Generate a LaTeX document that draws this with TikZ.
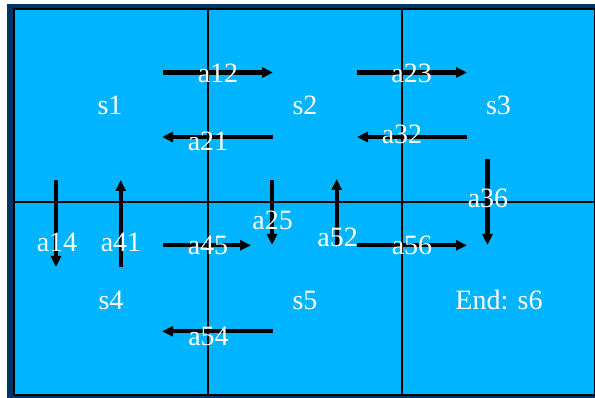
\documentclass[tikz,border=0pt]{standalone}
\usepackage{fontspec}
\setmainfont{Liberation Serif}
\usetikzlibrary{arrows.meta}
\definecolor{cellblue}{RGB}{0,180,255}
\definecolor{navy}{RGB}{0,51,102}
\tikzset{
  lbl/.style={text=white, font=\fontsize{28}{30}\selectfont, anchor=base, inner sep=0pt},
  act/.style={line width=4.3pt, -{Triangle[length=11pt,width=10pt]}},
  gridline/.style={line width=2pt, black},
}
\begin{document}
\begin{tikzpicture}[x=1pt,y=-1pt]
\useasboundingbox (0,0) rectangle (595,398);
\fill[white] (0,0) rectangle (595,398);
\fill[navy] (7,4) rectangle (597,400);
\draw[gridline, fill=cellblue] (14,8.8) rectangle (595,395);
\draw[gridline] (207.7,8.8) -- (207.7,395);
\draw[gridline] (401.7,8.8) -- (401.7,395);
\draw[gridline] (14,202.3) -- (595,202.3);
% arrow end points
\coordinate (a12s) at (163,72.5);  \coordinate (a12e) at (273,72.5);
\coordinate (a21s) at (273,137);   \coordinate (a21e) at (162,137);
\coordinate (a23s) at (357,72.5);  \coordinate (a23e) at (467,72.5);
\coordinate (a32s) at (467,137);   \coordinate (a32e) at (357,137);
\coordinate (a36s) at (487.5,159); \coordinate (a36e) at (487.5,245);
\coordinate (a14s) at (56,180);    \coordinate (a14e) at (56,267);
\coordinate (a41s) at (120.7,267); \coordinate (a41e) at (120.7,180);
\coordinate (a45s) at (163,245.3); \coordinate (a45e) at (251,245.3);
\coordinate (a25s) at (272,180);   \coordinate (a25e) at (272,245);
\coordinate (a52s) at (336.7,245.3); \coordinate (a52e) at (336.7,179);
\coordinate (a56s) at (357,245.3); \coordinate (a56e) at (467,245.3);
\coordinate (a54s) at (273,331.3); \coordinate (a54e) at (162,331.3);
\foreach \a in {a12,a21,a23,a32,a36,a14,a41,a45,a25,a52,a56,a54}
  \draw[act] (\a s) -- (\a e);
% state labels
\node[lbl] (s1) at (110,115) {s1};
\node[lbl] (s2) at (305,115) {s2};
\node[lbl] (s3) at (498.5,115) {s3};
\node[lbl] (s4) at (111,309.3) {s4};
\node[lbl] (s5) at (305,309.3) {s5};
\node[lbl] (s6) at (499,309.3) {End: s6};
% action labels
\node[lbl] (l12) at (218,82.7) {a12};
\node[lbl] (l21) at (208,150.7) {a21};
\node[lbl] (l23) at (411.7,82.7) {a23};
\node[lbl] (l32) at (402,143.3) {a32};
\node[lbl] (l36) at (488,208) {a36};
\node[lbl] (l14) at (57,251.7) {a14};
\node[lbl] (l41) at (121,251.7) {a41};
\node[lbl] (l45) at (208,255) {a45};
\node[lbl] (l25) at (272.7,230) {a25};
\node[lbl] (l52) at (337.7,246.7) {a52};
\node[lbl] (l56) at (412,254.3) {a56};
\node[lbl] (l54) at (208.5,345) {a54};
\end{tikzpicture}
\end{document}
